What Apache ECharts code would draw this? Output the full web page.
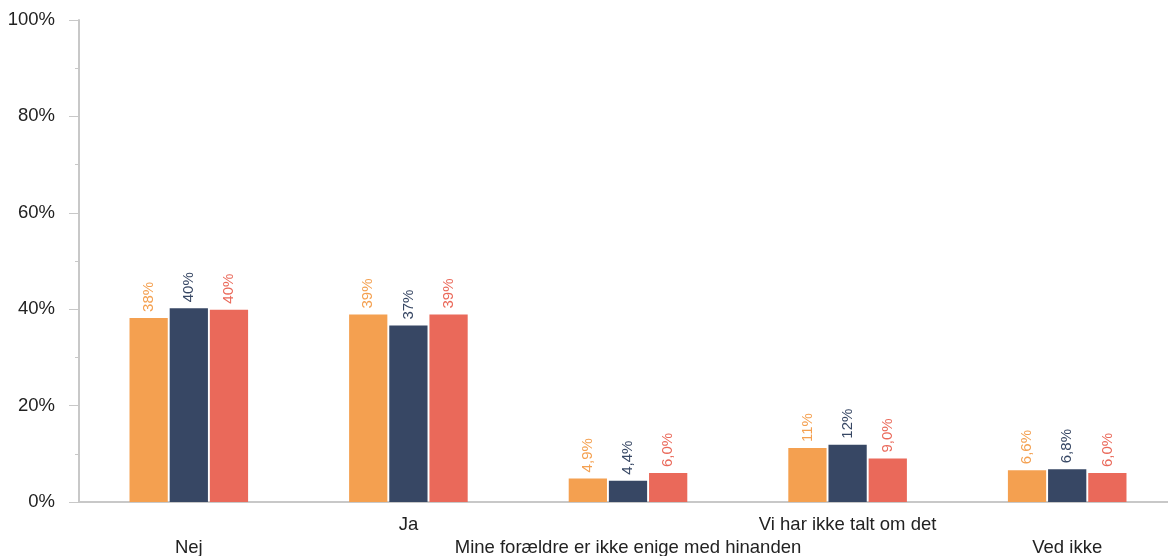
<!DOCTYPE html>
<html>
<head>
<meta charset="utf-8">
<script src="https://cdn.jsdelivr.net/npm/echarts@6/dist/echarts.min.js"></script>
<style>html,body{margin:0;padding:0;background:#fff;overflow:hidden}#c{width:1177px;height:556px}</style>
</head>
<body>
<div id="c"></div>
<script>
const categories = ['Nej', 'Ja', 'Mine forældre er ikke enige med hinanden', 'Vi har ikke talt om det', 'Ved ikke'];
const seriesA = [38.2, 38.9, 4.9, 11.2, 6.6];
const seriesB = [40.2, 36.6, 4.4, 11.9, 6.8];
const seriesC = [39.9, 38.9, 6.0, 9.0, 6.0];
const colors = ['#F4A050', '#374764', '#EA695A'];
const yTicks = [0, 20, 40, 60, 80, 100];

function fmt(v) {
  if (v >= 10) return Math.round(v) + '%';
  return v.toFixed(1).replace('.', ',') + '%';
}
const font = 'Liberation Sans, Arial, sans-serif';
function mk(name, data, color) {
  return {
    name: name, type: 'bar', data: data, barGap: '5%', barCategoryGap: '46%',
    itemStyle: { color: color },
    label: {
      show: true, position: 'top', rotate: 90, align: 'left', verticalAlign: 'middle',
      distance: 6, color: color, fontSize: 15, fontFamily: font,
      formatter: p => fmt(p.value)
    }
  };
}
const chart = echarts.init(document.getElementById('c'));
chart.setOption({
  animation: false,
  grid: { left: 79, right: 0, top: 20, bottom: 54, outerBoundsMode: 'none' },
  xAxis: {
    type: 'category', data: categories,
    axisLine: { lineStyle: { color: '#c8c8c8', width: 2 } },
    axisTick: { show: false },
    axisLabel: {
      interval: 0, margin: 11, fontSize: 18.5, lineHeight: 23, color: '#222', fontFamily: font,
      formatter: (v, i) => (i % 2 === 0 ? '\n' + v : v)
    }
  },
  yAxis: {
    type: 'value', min: 0, max: 100, interval: 20,
    axisLine: { show: true, lineStyle: { color: '#c8c8c8', width: 2 } },
    axisTick: { show: true, length: 10, lineStyle: { color: '#c8c8c8', width: 1 } },
    minorTick: { show: true, splitNumber: 2, length: 4, lineStyle: { color: '#c8c8c8', width: 1 } },
    splitLine: { show: false },
    axisLabel: {
      margin: 24, fontSize: 18.5, color: '#222', fontFamily: font,
      formatter: v => (yTicks.indexOf(v) >= 0 ? v + '%' : '')
    }
  },
  series: [mk('A', seriesA, colors[0]), mk('B', seriesB, colors[1]), mk('C', seriesC, colors[2])]
});
</script>
</body>
</html>
